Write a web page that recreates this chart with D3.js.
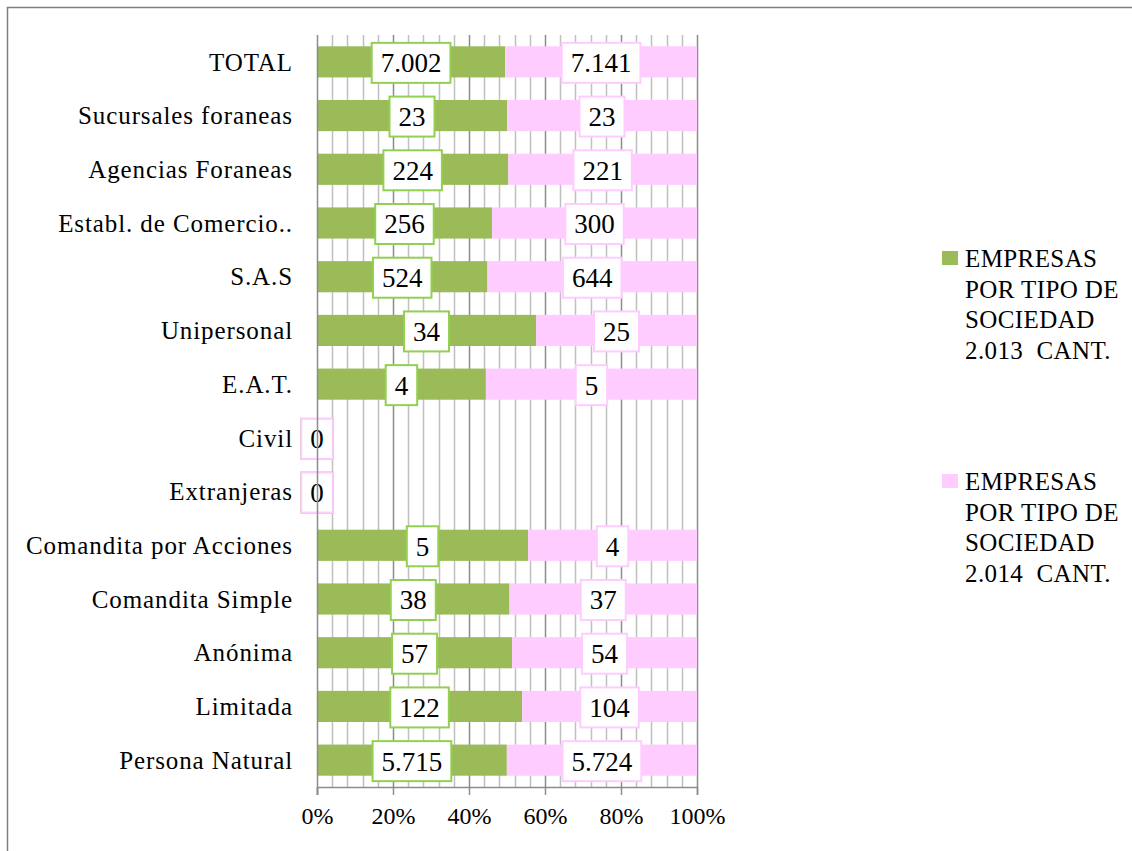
<!DOCTYPE html>
<html>
<head>
<meta charset="utf-8">
<script src="https://cdn.jsdelivr.net/npm/d3@7"></script>
<style>
  body { margin: 0; background: #fff; }
  svg text { font-family: "Liberation Serif", "Times New Roman", serif; fill: #000; }
</style>
</head>
<body>
<script>
// categories, top to bottom
var categories = ["TOTAL", "Sucursales foraneas", "Agencias Foraneas", "Establ. de Comercio..",
  "S.A.S", "Unipersonal", "E.A.T.", "Civil", "Extranjeras", "Comandita por Acciones",
  "Comandita Simple", "Anónima", "Limitada", "Persona Natural"];
var values2013 = [7002, 23, 224, 256, 524, 34, 4, 0, 0, 5, 38, 57, 122, 5715];
var values2014 = [7141, 23, 221, 300, 644, 25, 5, 0, 0, 4, 37, 54, 104, 5724];
var seriesNames = ["EMPRESAS|POR TIPO DE|SOCIEDAD|2.013  CANT.", "EMPRESAS|POR TIPO DE|SOCIEDAD|2.014  CANT."];
var tickValues = [0, 0.2, 0.4, 0.6, 0.8, 1];

var fill = ["#9BBB59", "#FFCCFF"];
var labelStroke = ["#92D050", "#FFCCFF"];

var W = 1132, H = 851;
var margin = {top: 35, left: 317, right: 435, bottom: 64};
var width = W - margin.left - margin.right,
    height = H - margin.top - margin.bottom;

var fmt = function(v){ return d3.format(",")(v).replace(/,/g, "."); };

// build stacked rows
var rows = categories.map(function(c, i){
  var tot = values2013[i] + values2014[i];
  var p1 = tot ? values2013[i] / tot : 0;
  var p2 = tot ? values2014[i] / tot : 0;
  return {cat: c, segs: [
    {k: 0, v: values2013[i], x0: 0, x1: p1},
    {k: 1, v: values2014[i], x0: p1, x1: p1 + p2}
  ]};
});

var svg = d3.select("body").append("svg")
    .attr("width", W)
    .attr("height", H);

// outer frame
svg.append("rect")
    .attr("x", 7.5).attr("y", 7.5)
    .attr("width", W).attr("height", H)
    .attr("fill", "none").attr("stroke", "#808080").attr("stroke-width", 1.5);

var g = svg.append("g")
    .attr("transform", "translate(" + margin.left + "," + margin.top + ")");

var x = d3.scaleLinear().domain([0, 1]).range([0, width]);
var y = d3.scaleBand().domain(categories).range([0, height]).paddingInner(0.42).paddingOuter(0.21);

// minor grid lines every 4%
g.append("g").selectAll("line")
    .data(d3.range(1, 25).map(function(i){ return i * 0.04; }).filter(function(v){ return Math.round(v * 100) % 20 !== 0; }))
  .join("line")
    .attr("x1", function(d){ return Math.round(x(d)) + 0.5; })
    .attr("x2", function(d){ return Math.round(x(d)) + 0.5; })
    .attr("y1", 0).attr("y2", height)
    .attr("stroke", "#C0C0C0").attr("stroke-width", 1.5);

// major grid lines
g.append("g").selectAll("line")
    .data(tickValues.slice(1))
  .join("line")
    .attr("x1", function(d){ return Math.round(x(d)) + 0.5; })
    .attr("x2", function(d){ return Math.round(x(d)) + 0.5; })
    .attr("y1", 0).attr("y2", height)
    .attr("stroke", "#8C8C8C").attr("stroke-width", 1.5);

// bars
var rowG = g.selectAll(".row")
    .data(rows)
  .join("g")
    .attr("class", "row")
    .attr("transform", function(d){ return "translate(0," + y(d.cat) + ")"; });

rowG.selectAll("rect")
    .data(function(d){ return d.segs; })
  .join("rect")
    .attr("x", function(d){ return x(d.x0); })
    .attr("width", function(d){ return x(d.x1) - x(d.x0); })
    .attr("height", y.bandwidth())
    .attr("fill", function(d){ return fill[d.k]; });

// x axis
var xAxis = g.append("g")
    .attr("transform", "translate(0," + height + ")")
    .call(d3.axisBottom(x).tickValues(tickValues).tickFormat(d3.format(".0%")).tickSize(8).tickPadding(12));
xAxis.attr("font-family", null).attr("font-size", null);
xAxis.select(".domain").attr("stroke", "#8C8C8C").attr("stroke-width", 1.5);
xAxis.selectAll(".tick line").attr("stroke", "#8C8C8C").attr("stroke-width", 1.5);
xAxis.selectAll("text").style("font-size", "24px").attr("fill", "#000");

// y axis line
g.append("line")
    .attr("x1", 0.5).attr("x2", 0.5).attr("y1", 0).attr("y2", height + 8)
    .attr("stroke", "#8C8C8C").attr("stroke-width", 1.5);

// category labels
g.append("g").selectAll("text")
    .data(categories)
  .join("text")
    .attr("x", -24)
    .attr("y", function(d){ return y(d) + y.bandwidth() / 2; })
    .attr("dy", "0.35em")
    .attr("text-anchor", "end")
    .style("font-size", "25px")
    .style("letter-spacing", "0.9px")
    .text(function(d){ return d; });

// data labels (boxed)
var lab = rowG.selectAll(".lab")
    .data(function(d){ return d.segs; })
  .join("g")
    .attr("class", "lab")
    .attr("transform", function(d){ return "translate(" + x((d.x0 + d.x1) / 2) + "," + (y.bandwidth() / 2 + 1) + ")"; });

lab.append("text")
    .attr("text-anchor", "middle")
    .attr("dy", "0.35em")
    .style("font-size", "27px")
    .text(function(d){ return fmt(d.v); });

lab.insert("rect", "text")
    .each(function(){
      var t = d3.select(this.parentNode).select("text").node();
      var w = t.getComputedTextLength();
      d3.select(this)
        .attr("x", -w / 2 - 9).attr("width", w + 18)
        .attr("y", -20).attr("height", 40);
    })
    .attr("fill", "#fff")
    .attr("stroke", function(d){ return labelStroke[d.k]; })
    .attr("stroke-width", 2);

// legend
var leg = svg.append("g").attr("transform", "translate(942,251)");
var legItem = leg.selectAll("g")
    .data(seriesNames)
  .join("g")
    .attr("transform", function(d, i){ return "translate(0," + (i * 223) + ")"; });

legItem.append("rect")
    .attr("width", 16).attr("height", 14)
    .attr("fill", function(d, i){ return fill[i]; });

legItem.append("text")
    .attr("y", 16)
    .style("font-size", "25px")
    .style("letter-spacing", "0.4px")
    .selectAll("tspan")
    .data(function(d){ return d.split("|"); })
  .join("tspan")
    .attr("x", 23)
    .attr("dy", function(d, i){ return i ? 30.5 : 0; })
    .style("white-space", "pre")
    .text(function(d){ return d; });
</script>
</body>
</html>
